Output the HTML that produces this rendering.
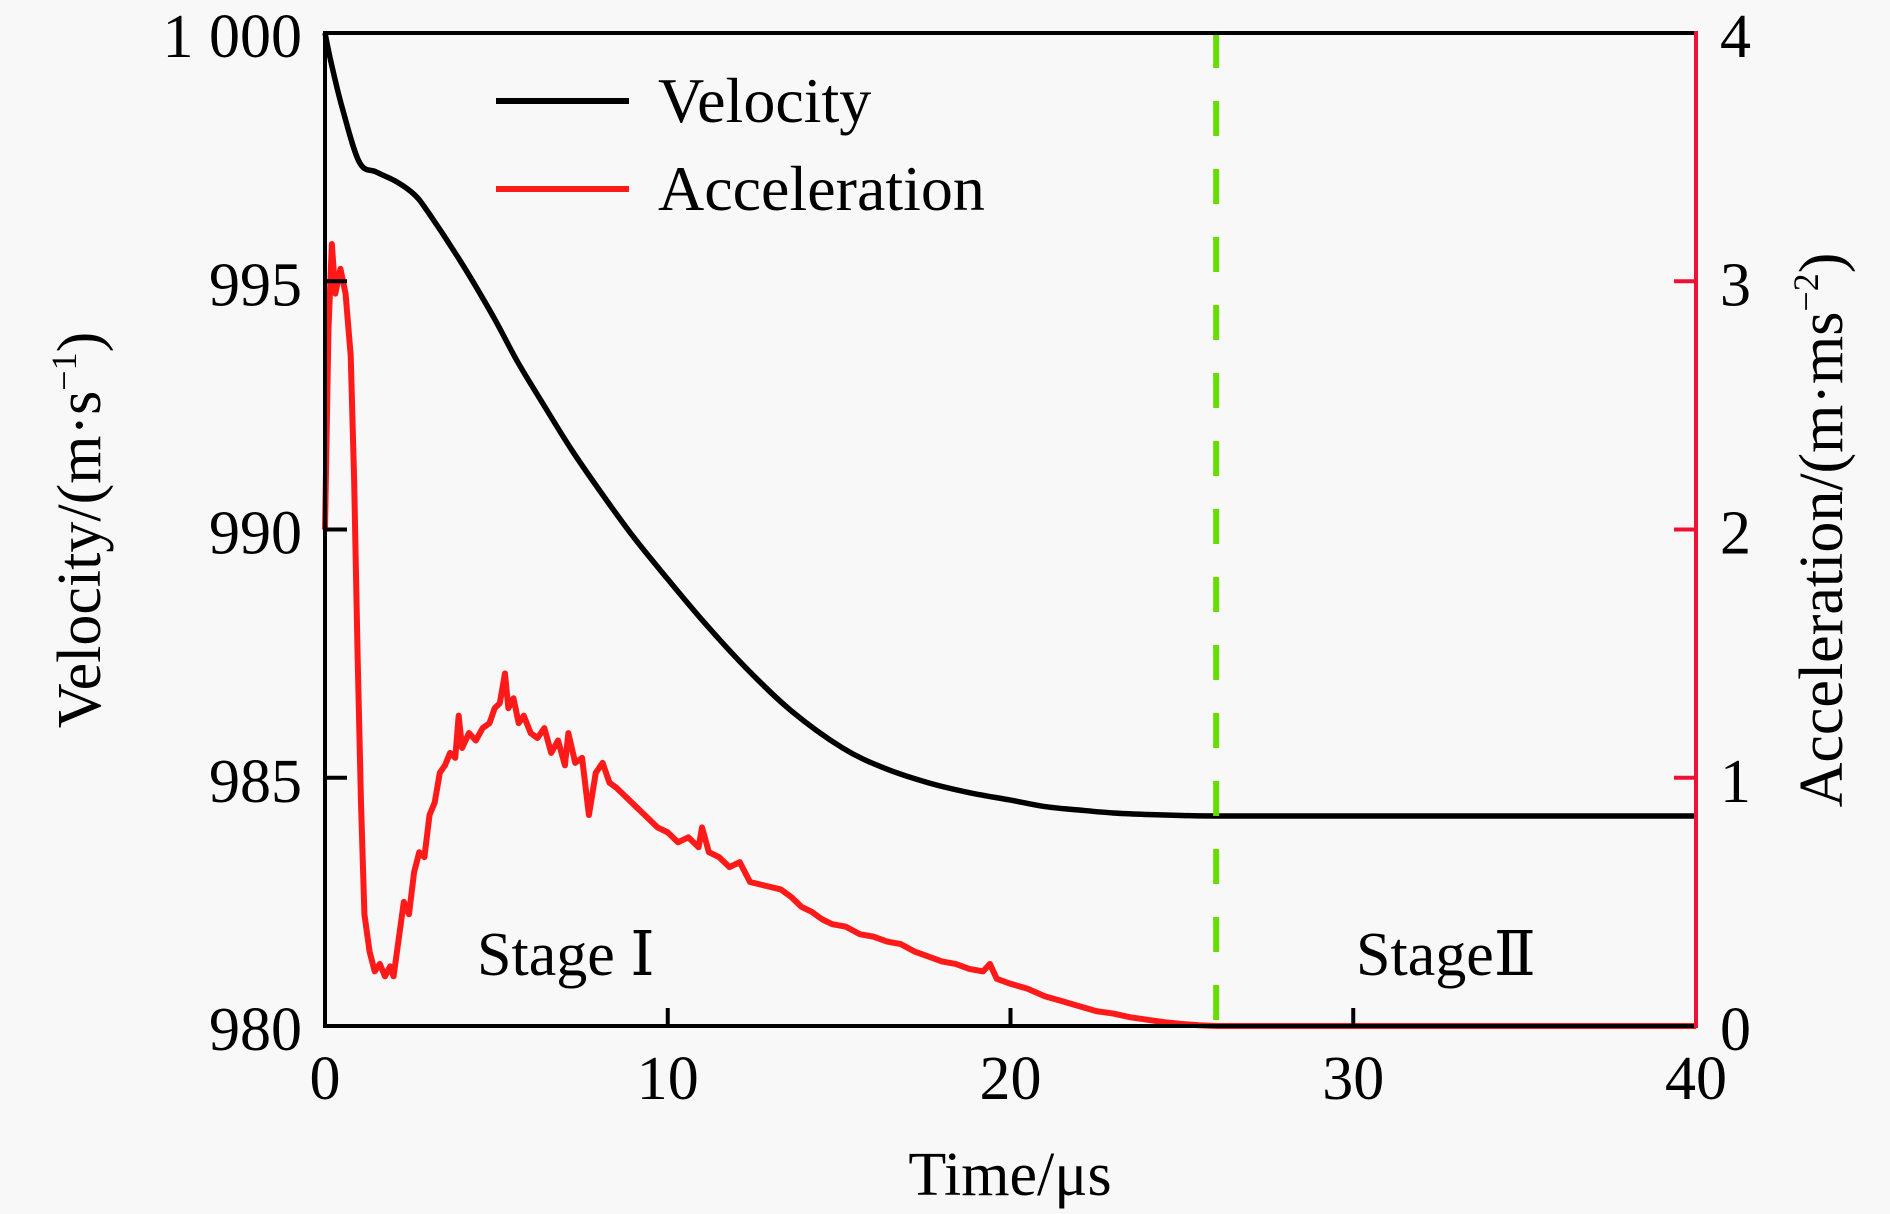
<!DOCTYPE html>
<html><head><meta charset="utf-8"><style>
html,body{margin:0;padding:0;background:#f8f8f8}
svg{display:block}
text{font-family:"Liberation Serif","DejaVu Serif",serif;fill:#000}
</style></head><body>
<svg id="chart" width="1890" height="1214" viewBox="0 0 1890 1214" xmlns="http://www.w3.org/2000/svg">
<rect width="1890" height="1214" fill="#f8f8f8"/>
<g id="marks"></g>
<g id="axes"></g>
<g>
<line x1="496" y1="101" x2="629" y2="101" stroke="#000" stroke-width="6"/>
<text x="658" y="122" font-size="64">Velocity</text>
<line x1="496" y1="189" x2="629" y2="189" stroke="#ff1a1a" stroke-width="6"/>
<text x="658" y="210" font-size="64">Acceleration</text>
</g>
<text x="477" y="975" font-size="62">Stage <tspan font-family="DejaVu Serif, serif">Ⅰ</tspan></text>
<text x="1356" y="975" font-size="62">Stage<tspan font-family="DejaVu Serif, serif">Ⅱ</tspan></text>
<text x="1010" y="1195" font-size="62" text-anchor="middle">Time/μs</text>
<text transform="translate(100,530) rotate(-90)" font-size="62" text-anchor="middle">Velocity/(m·s<tspan dy="-24" font-size="36">−1</tspan><tspan dy="24">)</tspan></text>
<text transform="translate(1842,530) rotate(-90)" font-size="62" text-anchor="middle">Acceleration/(m·ms<tspan dy="-24" font-size="36">−2</tspan><tspan dy="24">)</tspan></text>
</svg>
<script>
const xTicks=[0,10,20,30,40];
const vTicks=[980,985,990,995,1000];
const vTickLabels=["980","985","990","995","1 000"];
const aTicks=[0,1,2,3,4];
const stageBoundary=26;
const velT=[0,0.18,0.5,1.0,1.5,2.1,2.6,3.0,4.0,4.9,5.6,6.3,7.2,8.1,9.0,10,11.1,12.3,13.6,15.1,16.3,17.6,18.8,20,21,22,23,24,25,26,30,35,40];
const velV=[1000,999.4,998.5,997.4,997.2,997.0,996.75,996.4,995.35,994.3,993.4,992.6,991.6,990.7,989.85,989.0,988.1,987.2,986.35,985.6,985.2,984.9,984.7,984.55,984.42,984.35,984.29,984.26,984.24,984.23,984.23,984.23,984.23];
const accT=[0,0.1,0.2,0.3,0.45,0.6,0.75,0.85,0.95,1.05,1.15,1.3,1.45,1.6,1.75,1.9,2.0,2.15,2.3,2.45,2.6,2.75,2.9,3.05,3.2,3.35,3.5,3.65,3.8,3.9,4.0,4.2,4.4,4.6,4.8,4.95,5.1,5.25,5.35,5.5,5.65,5.8,6.0,6.2,6.4,6.6,6.8,7.0,7.1,7.3,7.5,7.7,7.9,8.1,8.3,8.5,8.8,9.1,9.4,9.7,10.0,10.3,10.6,10.9,11.0,11.2,11.5,11.8,12.1,12.4,12.7,13.0,13.3,13.6,13.9,14.2,14.5,14.8,15.2,15.6,16.0,16.4,16.8,17.2,17.6,18.0,18.4,18.8,19.2,19.4,19.6,20.0,20.5,21.0,21.5,22.0,22.5,23.0,23.5,24.0,24.5,25.0,25.5,26.0,40];
const accA=[2.0,2.8,3.15,2.95,3.05,2.95,2.7,2.2,1.5,0.9,0.45,0.3,0.22,0.25,0.2,0.24,0.2,0.35,0.5,0.45,0.62,0.7,0.68,0.85,0.9,1.02,1.05,1.1,1.08,1.25,1.12,1.18,1.15,1.2,1.22,1.28,1.3,1.42,1.28,1.32,1.22,1.25,1.18,1.16,1.2,1.1,1.15,1.05,1.18,1.06,1.08,0.85,1.02,1.06,0.98,0.96,0.92,0.88,0.84,0.8,0.78,0.74,0.76,0.72,0.8,0.7,0.68,0.64,0.66,0.58,0.57,0.56,0.55,0.52,0.48,0.46,0.43,0.41,0.4,0.37,0.36,0.34,0.33,0.3,0.28,0.26,0.25,0.23,0.22,0.25,0.19,0.17,0.15,0.12,0.1,0.08,0.06,0.05,0.035,0.025,0.015,0.008,0.003,0,0];

const L=325,R=1696,T=33,B=1026;
const x=t=>L+(t-0)/(40-0)*(R-L);
const yV=v=>B-(v-980)/(1000-980)*(B-T);
const yA=a=>B-(a-0)/(4-0)*(B-T);
const NS="http://www.w3.org/2000/svg";
function mk(tag,attrs,parent){const e=document.createElementNS(NS,tag);for(const k in attrs)e.setAttribute(k,attrs[k]);parent.appendChild(e);return e;}
const marks=document.getElementById('marks'),axes=document.getElementById('axes');

function smooth(pts){let d=`M${pts[0][0]},${pts[0][1]}`;for(let i=0;i<pts.length-1;i++){const p0=pts[Math.max(0,i-1)],p1=pts[i],p2=pts[i+1],p3=pts[Math.min(pts.length-1,i+2)];const c1x=p1[0]+(p2[0]-p0[0])/6,c1y=p1[1]+(p2[1]-p0[1])/6,c2x=p2[0]-(p3[0]-p1[0])/6,c2y=p2[1]-(p3[1]-p1[1])/6;d+=` C${c1x},${c1y} ${c2x},${c2y} ${p2[0]},${p2[1]}`;}return d;}

const accPath=mk('path',{d:'M'+accT.map((t,i)=>x(t)+','+yA(accA[i])).join(' L'),fill:'none',stroke:'#ff1a1a','stroke-width':6,'stroke-linejoin':'round'},marks);


const velPath=mk('path',{d:smooth(velT.map((t,i)=>[x(t),yV(velV[i])])),fill:'none',stroke:'#000','stroke-width':5.5},marks);


const stageLine=mk('line',{x1:x(stageBoundary),x2:x(stageBoundary),y1:T,y2:B,stroke:'#66dd00','stroke-width':6,'stroke-dasharray':'35 33'},marks);



const topAx=mk('line',{x1:L,x2:R,y1:T,y2:T,stroke:'#000','stroke-width':4},axes);


const botAx=mk('line',{x1:L-2,x2:R,y1:B,y2:B,stroke:'#000','stroke-width':4},axes);


const leftAx=mk('line',{x1:L,x2:L,y1:T-2,y2:B+2,stroke:'#000','stroke-width':4},axes);


const rightAx=mk('line',{x1:R,x2:R,y1:T-2,y2:B+2,stroke:'#ee1133','stroke-width':4},axes);



xTicks.forEach(t=>{
  if(t>0&&t<40){const tk=mk('line',{x1:x(t),x2:x(t),y1:B,y2:B-18,stroke:'#000','stroke-width':4},axes);
  
  }
  const lb=mk('text',{x:x(t),y:1099,'font-size':62,'text-anchor':'middle'},axes);lb.textContent=String(t);
  
  
});
vTicks.forEach((v,i)=>{
  if(v>980&&v<1000){const tk=mk('line',{x1:L,x2:L+22,y1:yV(v),y2:yV(v),stroke:'#000','stroke-width':4},axes);
  
  }
  const lb=mk('text',{x:302,y:yV(v)+24,'font-size':62,'text-anchor':'end'},axes);lb.textContent=vTickLabels[i];
  
  
});
aTicks.forEach(a=>{
  if(a>0&&a<4){const tk=mk('line',{x1:R,x2:R-22,y1:yA(a),y2:yA(a),stroke:'#ee1133','stroke-width':4},axes);
  
  }
  const lb=mk('text',{x:1720,y:yA(a)+24,'font-size':62},axes);lb.textContent=String(a);
  
  
});
</script>
</body></html>
